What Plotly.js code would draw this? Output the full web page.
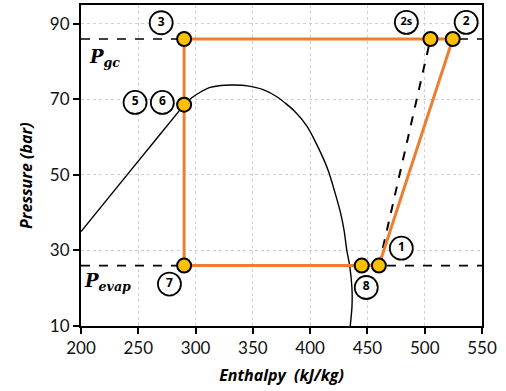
<!DOCTYPE html>
<html>
<head>
<meta charset="utf-8">
<script src="https://cdn.plot.ly/plotly-3.0.1.min.js"></script>
<style>html,body{margin:0;padding:0;background:#fff;}#chart{width:506px;height:391px;}</style>
</head>
<body>
<div id="chart"></div>
<script>
// Saturation dome (enthalpy kJ/kg, pressure bar)
const domeH = [200, 245, 285, 290, 297, 304, 312, 322, 333, 345, 359, 372, 386, 397, 407, 416, 422, 426.5, 429.8, 432, 434.5, 436.5, 436.5, 435];
const domeP = [35.0, 51.8, 66.7, 68.6, 70.5, 71.9, 73.1, 73.7, 73.8, 73.6, 72.6, 70.5, 67, 63, 57.3, 51, 45, 40, 35, 30, 26, 20, 15, 10];

// Cycle state points
const pGc = 86, pEvap = 26;
const cycleH = [290, 445, 460, 524.5, 290, 290];
const cycleP = [pEvap, pEvap, pEvap, pGc, pGc, pEvap];
const stateH = [290, 290, 290, 445, 460, 524.5, 505];
const stateP = [pGc, 68.6, pEvap, pEvap, pEvap, pGc, pGc];
const isenH = [460, 505];
const isenP = [pEvap, pGc];
const pLineH = [200, 550];

// Circled labels
const labelText = ['3', '5', '6', '7', '8', '1', '2s', '2'];
const labelH = [270, 247.2, 271, 277.2, 449, 479.6, 484, 536.2];
const labelP = [90.3, 69.2, 69.2, 21.1, 20.2, 30.6, 90.4, 90.4];

const traces = [
  {x: pLineH, y: [pGc, pGc], mode: 'lines', line: {color: '#000', width: 1.6, dash: 'dash'}, hoverinfo: 'skip'},
  {x: pLineH, y: [pEvap, pEvap], mode: 'lines', line: {color: '#000', width: 1.6, dash: 'dash'}, hoverinfo: 'skip'},
  {x: domeH, y: domeP, mode: 'lines', line: {color: '#000', width: 1.4, shape: 'spline', smoothing: 0.5}},
  {x: isenH, y: isenP, mode: 'lines', line: {color: '#000', width: 2, dash: 'dash'}},
  {x: cycleH, y: cycleP, mode: 'lines', line: {color: '#ED7D31', width: 3}},
  {x: stateH, y: stateP, mode: 'markers', marker: {size: 14, color: '#FFC000', line: {color: '#000', width: 2}}},
  {x: labelH, y: labelP, mode: 'markers+text', text: labelText, textposition: 'middle center',
   textfont: {family: 'Open Sans, sans-serif', size: labelText.map(t => t.length > 1 ? 11 : 12), color: '#000', weight: 'bold'},
   marker: {size: 23, color: '#fff', line: {color: '#000', width: 1.8}}}
];

const tickFont = {family: 'Lato, sans-serif', size: 17, color: '#111'};
const titleFont = {family: 'Open Sans, sans-serif', size: 16, color: '#000'};
const plotW = 506 - 81 - 24, plotH = 391 - 5 - 65;
const layout = {
  width: 506, height: 391,
  margin: {l: 81, r: 24, t: 5, b: 65},
  paper_bgcolor: '#fff', plot_bgcolor: '#fff',
  showlegend: false,
  xaxis: {
    range: [200, 550], tickvals: [200, 250, 300, 350, 400, 450, 500, 550],
    showgrid: true, gridcolor: '#d0d0d0', griddash: 'dot', gridwidth: 1,
    zeroline: false, showline: true, linecolor: '#000', linewidth: 2, mirror: true,
    ticks: 'outside', ticklen: 6, tickwidth: 2, tickcolor: '#000',
    tickfont: tickFont,
    title: {text: '<b><i>Enthalpy&nbsp;&nbsp;(kJ/kg)</i></b>', font: titleFont, standoff: 12}
  },
  yaxis: {
    range: [10, 95], tickvals: [10, 30, 50, 70, 90],
    showgrid: true, gridcolor: '#d0d0d0', griddash: 'dot', gridwidth: 1,
    zeroline: false, showline: true, linecolor: '#000', linewidth: 2, mirror: true,
    ticks: 'outside', ticklen: 6, tickwidth: 2, tickcolor: '#000',
    tickfont: tickFont
  },
  annotations: [
    {x: (26 - 81) / plotW, y: 1 - (176 - 5) / plotH, xref: 'paper', yref: 'paper', showarrow: false, textangle: -90,
     text: '<b><i>Pressure (bar)</i></b>', font: titleFont, xanchor: 'center', yanchor: 'middle'},
    {x: 205, y: 81, xref: 'x', yref: 'y', xanchor: 'left', yanchor: 'middle', showarrow: false,
     text: '<b><i>P<sub>gc</sub></i></b>', font: {family: 'DejaVu Serif, serif', size: 18, color: '#000'}},
    {x: 200.5, y: 21.7, xref: 'x', yref: 'y', xanchor: 'left', yanchor: 'middle', showarrow: false,
     text: '<b><i>P<sub>evap</sub></i></b>', font: {family: 'DejaVu Serif, serif', size: 18, color: '#000'}}
  ]
};

Plotly.newPlot('chart', traces, layout, {displayModeBar: false, staticPlot: true});
</script>
</body>
</html>
